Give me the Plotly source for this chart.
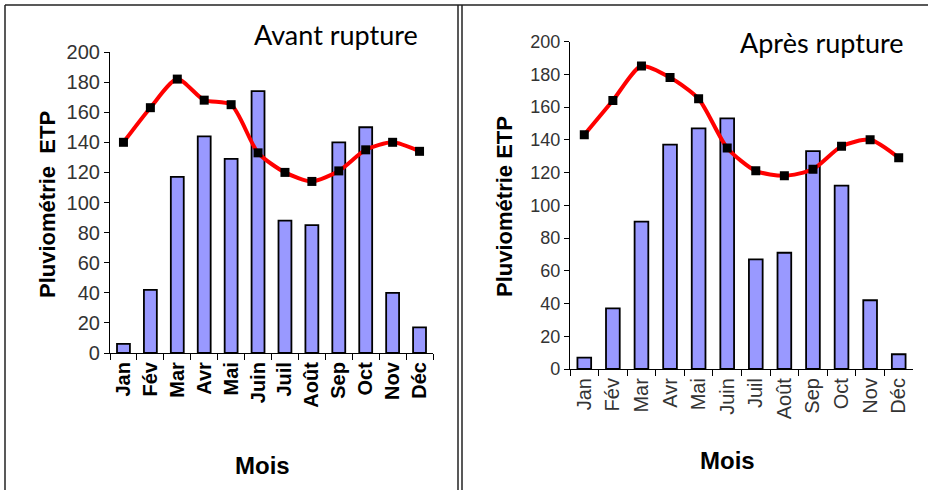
"""Pluviométrie et ETP mensuelles, avant et après rupture."""

from __future__ import annotations

import plotly.graph_objects as go

MONTHS = ["Jan", "Fév", "Mar", "Avr", "Mai", "Juin", "Juil", "Août", "Sep", "Oct", "Nov", "Déc"]
Y_TICKS = [0, 20, 40, 60, 80, 100, 120, 140, 160, 180, 200]

PLUIE_AVANT = [6, 42, 117, 144, 129, 174, 88, 85, 140, 150, 40, 17]
ETP_AVANT = [140, 163, 182, 168, 165, 133, 120, 114, 121, 135, 140, 134]

PLUIE_APRES = [7, 37, 90, 137, 147, 153, 67, 71, 133, 112, 42, 9]
ETP_APRES = [143, 164, 185, 178, 165, 135, 121, 118, 122, 136, 140, 129]

W, H = 930, 490
BAR_COLOR = "#9999FF"
LINE_COLOR = "#FF0000"
TICK_COLOR = "#333333"
FONT = "Liberation Sans, Arial"


def px_x(v: float) -> float:
    return v / W


def px_y(v: float) -> float:
    return 1 - v / H


def add_panel(fig, pluie, etp, idx, bold_months, ytick_size):
    """Bars + smoothed ETP line on their own axes."""
    xa = "x" if idx == 1 else f"x{idx}"
    ya = "y" if idx == 1 else f"y{idx}"
    fig.add_trace(go.Bar(
        x=MONTHS, y=pluie, xaxis=xa, yaxis=ya, width=0.48,
        marker=dict(color=BAR_COLOR, line=dict(color="black", width=1.8)),
        showlegend=False,
    ))
    fig.add_trace(go.Scatter(
        x=MONTHS, y=etp, xaxis=xa, yaxis=ya, mode="lines+markers",
        line=dict(color=LINE_COLOR, width=4, shape="spline", smoothing=0.7),
        marker=dict(symbol="square", size=9, color="black"),
        showlegend=False,
    ))
    ticktext = [f"<b>{m}</b>" if bold_months else m for m in MONTHS]
    return dict(
        type="category", categoryorder="array", categoryarray=MONTHS,
        tickvals=MONTHS, ticktext=ticktext, tickangle=-90,
        tickson="boundaries", ticks="outside", ticklen=6, tickcolor="black",
        showline=True, linecolor="black", linewidth=1.2, showgrid=False,
        tickfont=dict(family=FONT, size=20, color="black" if bold_months else TICK_COLOR),
        range=[-0.5, 11.5], anchor=ya, fixedrange=True, automargin=False,
    ), dict(
        range=[0, 200], tickvals=Y_TICKS, ticks="outside", ticklen=5,
        tickcolor="black", showline=True, linecolor="black", linewidth=1.2,
        showgrid=False, zeroline=False, anchor=xa, fixedrange=True,
        automargin=False,
        tickfont=dict(family=FONT, size=ytick_size, color=TICK_COLOR),
    )


fig = go.Figure()
xa1, ya1 = add_panel(fig, PLUIE_AVANT, ETP_AVANT, 1, True, 20)
xa2, ya2 = add_panel(fig, PLUIE_APRES, ETP_APRES, 2, False, 18)

xa1["domain"] = [px_x(110), px_x(433)]
ya1["domain"] = [px_y(353), px_y(52)]
xa2["domain"] = [px_x(570), px_x(913)]
ya2["domain"] = [px_y(369), px_y(41.5)]

title_font = dict(family="Lato, Open Sans", size=27, color="black")
label_font = dict(family=FONT, size=22, color="black")
mois_font = dict(family=FONT, size=24, color="black")

annotations = [
    dict(text="Avant rupture", x=px_x(336), y=px_y(35), font=title_font),
    dict(text="Après rupture", x=px_x(822), y=px_y(42), font=title_font),
    dict(text="<b>Pluviométrie  ETP</b>", x=px_x(47), y=px_y(205), textangle=-90, font=label_font),
    dict(text="<b>Pluviométrie ETP</b>", x=px_x(505), y=px_y(206), textangle=-90, font=label_font),
    dict(text="<b>Mois</b>", x=px_x(262), y=px_y(465), font=mois_font),
    dict(text="<b>Mois</b>", x=px_x(727), y=px_y(460), font=mois_font),
]
for a in annotations:
    a.update(xref="paper", yref="paper", showarrow=False, xanchor="center", yanchor="middle")

border = dict(color="#222222", width=1.5)
shapes = [
    dict(type="line", x0=px_x(5), x1=px_x(928), y0=px_y(5), y1=px_y(5), line=border),
    dict(type="line", x0=px_x(5), x1=px_x(5), y0=px_y(5), y1=px_y(490), line=border),
    dict(type="line", x0=px_x(458), x1=px_x(458), y0=px_y(5), y1=px_y(490), line=border),
    dict(type="line", x0=px_x(462), x1=px_x(462), y0=px_y(5), y1=px_y(490), line=border),
]
for s in shapes:
    s.update(xref="paper", yref="paper")

fig.update_layout(
    width=W, height=H, margin=dict(l=0, r=0, t=0, b=0),
    paper_bgcolor="white", plot_bgcolor="white",
    xaxis=xa1, yaxis=ya1, xaxis2=xa2, yaxis2=ya2,
    annotations=annotations, shapes=shapes, bargap=0.52,
)

# the page body has a default 8px margin; drop it so the figure sits at 0,0
fig.write_html(
    "out.html",
    config={"displayModeBar": False},
    post_script="document.body.style.margin = '0';",
)
